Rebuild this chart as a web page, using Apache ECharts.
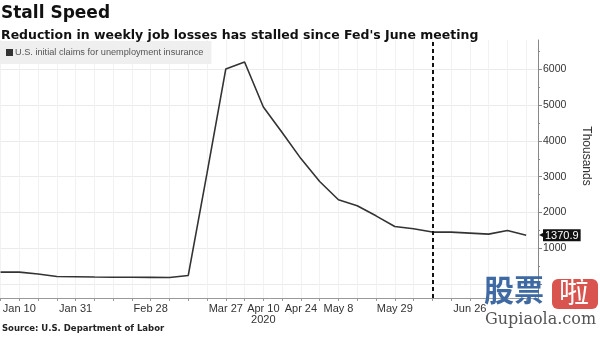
<!DOCTYPE html>
<html>
<head>
<meta charset="utf-8">
<script src="https://cdn.jsdelivr.net/npm/echarts@6/dist/echarts.min.js"></script>
<style>html,body{margin:0;padding:0;background:#fff}#c{width:600px;height:337px}</style>
</head>
<body>
<div id="c"></div>
<script>
// Weekly dates (Fridays, 2020)
const dates = ['Jan 3','Jan 10','Jan 17','Jan 24','Jan 31','Feb 7','Feb 14','Feb 21','Feb 28','Mar 6','Mar 13','Mar 20','Mar 27','Apr 3','Apr 10','Apr 17','Apr 24','May 1','May 8','May 15','May 22','May 29','Jun 5','Jun 12','Jun 19','Jun 26','Jul 3','Jul 10','Jul 17'];
// U.S. initial claims for unemployment insurance (thousands)
const claims = [342, 342, 287, 220, 212, 205, 200, 198, 196, 192, 248, 3100, 6003, 6198, 4944, 4230, 3505, 2866, 2357, 2190, 1910, 1613, 1549, 1457, 1457, 1429, 1401, 1501, 1370.9];
const xTickLabels = ['Jan 10','Jan 31','Feb 28','Mar 27','Apr 10','Apr 24','May 8','May 29','Jun 26'];
const yearLabel = {'Apr 10': '2020'};
const yTickLabels = [1000, 2000, 3000, 4000, 5000, 6000];
const yGridValues = [0, 1000, 2000, 3000, 4000, 5000, 6000];
const yMinorTicks = [500, 1500, 2500, 3500, 4500, 5500, 6500];
const fedMeeting = 'Jun 12';
const seriesName = 'U.S. initial claims for unemployment insurance';

const chart = echarts.init(document.getElementById('c'), null, {renderer: 'canvas'});
const lastVal = claims[claims.length - 1];
const font = 'Liberation Sans';

chart.setOption({
  animation: false,
  backgroundColor: '#fff',
  title: [
    {text: 'Stall Speed', left: 0, top: 3, padding: [2, 1],
     textStyle: {fontFamily: 'DejaVu Sans', fontWeight: 'bold', fontSize: 17, color: '#111'}},
    {text: "Reduction in weekly job losses has stalled since Fed's June meeting", left: 0, top: 27, padding: [2, 1],
     textStyle: {fontFamily: 'DejaVu Sans', fontWeight: 'bold', fontSize: 12.5, color: '#111'}},
    {text: 'Source: U.S. Department of Labor', left: 0, top: 324, padding: [0, 2],
     textStyle: {fontFamily: 'DejaVu Sans', fontWeight: 'bold', fontSize: 8.5, color: '#222'}}
  ],
  legend: {
    data: [seriesName], left: 0, top: 41, padding: [7, 8, 7, 6],
    backgroundColor: '#efefef', icon: 'rect', itemWidth: 7, itemHeight: 7, itemGap: 0,
    textStyle: {fontFamily: font, fontSize: 9.2, color: '#555', padding: [0, 0, 0, -3]}
  },
  grid: {left: 0, right: 56, top: 40, bottom: 39, containLabel: false},
  xAxis: {
    type: 'value', min: 0, max: 28.63, interval: 1,
    axisLine: {show: true, onZero: false, lineStyle: {color: '#999', width: 1}},
    axisTick: {show: true, length: 3, lineStyle: {color: '#999'}},
    splitLine: {show: true, lineStyle: {color: '#f2f2f2', width: 1}},
    axisLabel: {
      customValues: xTickLabels.map(d => dates.indexOf(d)),
      formatter: v => { const d = dates[v]; return yearLabel[d] ? d + '\n' + yearLabel[d] : d; },
      fontFamily: font, fontSize: 11, color: '#333', margin: 5, lineHeight: 11
    }
  },
  yAxis: [
    {
      type: 'value', position: 'right', min: -380, max: 6810,
      axisLine: {show: true, onZero: false, lineStyle: {color: '#888'}},
      axisTick: {show: true, length: 4, customValues: yGridValues, lineStyle: {color: '#888'}},
      splitLine: {show: true, lineStyle: {color: '#ebebeb', width: 1}},
      axisLabel: {customValues: yTickLabels, formatter: v => String(v), fontFamily: font, fontSize: 10.5, color: '#333', margin: 5},
      name: 'Thousands', nameLocation: 'middle', nameGap: 42, nameRotate: -90,
      nameTextStyle: {fontFamily: font, fontSize: 12, color: '#333', padding: [0, 26, 0, 0]}
    },
    {
      type: 'value', position: 'right', min: -380, max: 6810,
      axisLine: {show: false, onZero: false},
      axisTick: {show: true, length: 2, customValues: yMinorTicks, lineStyle: {color: '#888'}},
      splitLine: {show: false},
      axisLabel: {
        customValues: [lastVal], margin: 1,
        formatter: v => '{a|◀}{b|' + v + '}',
        rich: {
          a: {color: '#111', fontSize: 8, padding: [0, -2, 0, 0]},
          b: {backgroundColor: '#111', color: '#fff', fontFamily: font, fontSize: 11, padding: [1, 2, 0, 2]}
        }
      }
    }
  ],
  series: [{
    name: seriesName, type: 'line', yAxisIndex: 0,
    data: claims.map((v, i) => [i, v]),
    symbol: 'none', color: '#333',
    lineStyle: {color: '#333', width: 1.6},
    markLine: {
      silent: true, symbol: ['none', 'none'], label: {show: false},
      lineStyle: {color: '#111', type: [4, 3], width: 2},
      data: [{xAxis: dates.indexOf(fedMeeting)}]
    }
  }],
  graphic: [
    {type: 'text', left: 484, top: 275, z: 100,
     style: {text: '股票', fill: '#3f69a3', font: 'bold 30px "Noto Sans CJK SC"'}},
    {type: 'rect', left: 552, top: 279, z: 100,
     shape: {width: 46, height: 30, r: 6}, style: {fill: '#d9534f'}},
    {type: 'text', left: 559, top: 276, z: 101,
     style: {text: '啦', fill: '#fff', font: '30px "Noto Sans CJK SC"'}},
    {type: 'text', left: 485, top: 312, z: 100,
     style: {text: 'Gupiaola.com', fill: '#555', font: '16px "DejaVu Serif"'}}
  ]
});
</script>
</body>
</html>
